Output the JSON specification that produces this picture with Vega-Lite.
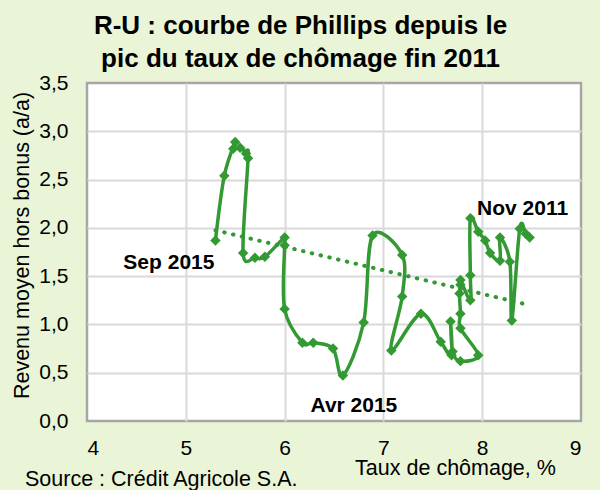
{
  "$schema": "https://vega.github.io/schema/vega-lite/v6.json",
  "width": 494,
  "height": 338,
  "autosize": "none",
  "padding": {"left": 87, "top": 83, "right": 19, "bottom": 69},
  "background": "#EAF4D6",
  "title": {
    "text": "Source : Crédit Agricole S.A.",
    "orient": "bottom",
    "anchor": "start",
    "frame": "group",
    "dx": -62,
    "dy": -14,
    "fontSize": 21.5,
    "fontWeight": "normal",
    "color": "#000000",
    "font": "Liberation Sans"
  },
  "config": {
    "font": "Liberation Sans",
    "view": {"fill": "white", "stroke": "#A6A6A6", "strokeWidth": 2.5},
    "axis": {
      "labelFont": "Liberation Sans",
      "titleFont": "Liberation Sans",
      "labelColor": "#000000",
      "titleColor": "#000000",
      "gridColor": "#D9D9D9",
      "gridWidth": 2,
      "domain": false,
      "ticks": false,
      "tickSize": 0,
      "labelFontSize": 21,
      "titleFontSize": 21.5,
      "titleFontWeight": "normal"
    }
  },
  "data": {
    "values": [
      {"t": 1, "u": 8.48, "w": 1.90, "label": "Nov 2011"},
      {"t": 2, "u": 8.44, "w": 1.94, "label": null},
      {"t": 3, "u": 8.38, "w": 1.99, "label": null},
      {"t": 4, "u": 8.30, "w": 1.04, "label": null},
      {"t": 5, "u": 8.28, "w": 1.65, "label": null},
      {"t": 6, "u": 8.18, "w": 1.90, "label": null},
      {"t": 7, "u": 8.18, "w": 1.66, "label": null},
      {"t": 8, "u": 8.08, "w": 1.74, "label": null},
      {"t": 9, "u": 8.03, "w": 1.87, "label": null},
      {"t": 10, "u": 7.96, "w": 1.96, "label": null},
      {"t": 11, "u": 7.88, "w": 2.10, "label": null},
      {"t": 12, "u": 7.88, "w": 1.51, "label": null},
      {"t": 13, "u": 7.88, "w": 1.25, "label": null},
      {"t": 14, "u": 7.78, "w": 1.46, "label": null},
      {"t": 15, "u": 7.78, "w": 1.41, "label": null},
      {"t": 16, "u": 7.77, "w": 1.32, "label": null},
      {"t": 17, "u": 7.78, "w": 1.11, "label": null},
      {"t": 18, "u": 7.78, "w": 0.96, "label": null},
      {"t": 19, "u": 7.96, "w": 0.68, "label": null},
      {"t": 20, "u": 7.78, "w": 0.62, "label": null},
      {"t": 21, "u": 7.70, "w": 0.72, "label": null},
      {"t": 22, "u": 7.68, "w": 1.03, "label": null},
      {"t": 23, "u": 7.69, "w": 0.68, "label": null},
      {"t": 24, "u": 7.58, "w": 0.82, "label": null},
      {"t": 25, "u": 7.38, "w": 1.11, "label": null},
      {"t": 26, "u": 7.08, "w": 0.73, "label": null},
      {"t": 27, "u": 7.19, "w": 1.29, "label": null},
      {"t": 28, "u": 7.19, "w": 1.72, "label": null},
      {"t": 29, "u": 6.89, "w": 1.92, "label": null},
      {"t": 30, "u": 6.80, "w": 1.02, "label": null},
      {"t": 31, "u": 6.59, "w": 0.47, "label": "Avr 2015"},
      {"t": 32, "u": 6.49, "w": 0.75, "label": null},
      {"t": 33, "u": 6.29, "w": 0.81, "label": null},
      {"t": 34, "u": 6.18, "w": 0.81, "label": null},
      {"t": 35, "u": 6.00, "w": 1.16, "label": null},
      {"t": 36, "u": 6.00, "w": 1.82, "label": null},
      {"t": 37, "u": 6.00, "w": 1.90, "label": null},
      {"t": 38, "u": 5.80, "w": 1.70, "label": null},
      {"t": 39, "u": 5.70, "w": 1.69, "label": null},
      {"t": 40, "u": 5.58, "w": 1.74, "label": null},
      {"t": 41, "u": 5.63, "w": 2.72, "label": null},
      {"t": 42, "u": 5.61, "w": 2.77, "label": null},
      {"t": 43, "u": 5.55, "w": 2.83, "label": null},
      {"t": 44, "u": 5.48, "w": 2.82, "label": null},
      {"t": 45, "u": 5.50, "w": 2.89, "label": null},
      {"t": 46, "u": 5.39, "w": 2.54, "label": null},
      {"t": 47, "u": 5.30, "w": 1.87, "label": "Sep 2015"}
    ]
  },
  "layer": [
    {
      "encoding": {
        "x": {
          "field": "u",
          "type": "quantitative",
          "scale": {"domain": [4, 9]},
          "axis": {
            "orient": "bottom",
            "values": [4, 5, 6, 7, 8, 9],
            "labelPadding": 16,
            "gridOpacity": {"condition": {"test": "datum.value == 4 || datum.value == 9", "value": 0}, "value": 1},
            "title": "Taux de chômage, %",
            "titleX": 368,
            "titleY": 53,
            "titleAlign": "center",
            "titleBaseline": "alphabetic"
          }
        },
        "y": {
          "field": "w",
          "type": "quantitative",
          "scale": {"domain": [0, 3.5]},
          "axis": {
            "values": [0, 0.5, 1, 1.5, 2, 2.5, 3, 3.5],
            "labelExpr": "replace(format(datum.value, '.1f'), '.', ',')",
            "labelPadding": 19,
            "gridOpacity": {"condition": {"test": "datum.value == 0 || datum.value == 3.5", "value": 0}, "value": 1},
            "title": "Revenu moyen hors bonus (a/a)",
            "titleAngle": -90,
            "titleX": -65,
            "titleY": 162,
            "titleAlign": "center",
            "titleBaseline": "middle"
          }
        }
      },
      "layer": [
        {
          "mark": {"type": "line", "interpolate": "cardinal", "color": "#339933", "strokeWidth": 3.5},
          "encoding": {"order": {"field": "t", "type": "quantitative"}}
        },
        {
          "mark": {"type": "point", "shape": "diamond", "filled": true, "opacity": 1, "size": 110, "color": "#339933"}
        },
        {
          "transform": [{"filter": "datum.label == 'Nov 2011'"}],
          "mark": {"type": "text", "fontSize": 21, "fontWeight": "bold", "color": "#000000", "align": "center", "baseline": "alphabetic", "dx": -7, "dy": -23},
          "encoding": {"text": {"field": "label"}}
        },
        {
          "transform": [{"filter": "datum.label == 'Sep 2015'"}],
          "mark": {"type": "text", "fontSize": 21, "fontWeight": "bold", "color": "#000000", "align": "right", "baseline": "alphabetic", "dx": -1, "dy": 29},
          "encoding": {"text": {"field": "label"}}
        },
        {
          "transform": [{"filter": "datum.label == 'Avr 2015'"}],
          "mark": {"type": "text", "fontSize": 21, "fontWeight": "bold", "color": "#000000", "align": "center", "baseline": "alphabetic", "dx": 11, "dy": 36},
          "encoding": {"text": {"field": "label"}}
        }
      ]
    },
    {
      "transform": [{"regression": "w", "on": "u"}],
      "mark": {"type": "line", "color": "#339933", "strokeWidth": 4, "strokeCap": "round", "strokeDash": [0.5, 8.5]},
      "encoding": {
        "x": {
          "field": "u",
          "type": "quantitative",
          "scale": {"domain": [4, 9]},
          "axis": {
            "orient": "top",
            "labels": false,
            "grid": false,
            "title": ["R-U : courbe de Phillips depuis le", "pic du taux de chômage fin 2011"],
            "titleFontSize": 26,
            "titleFontWeight": "bold",
            "titleLineHeight": 33,
            "titleX": 213,
            "titleY": -50,
            "titleAlign": "center",
            "titleBaseline": "alphabetic"
          }
        },
        "y": {"field": "w", "type": "quantitative"}
      }
    }
  ],
  "resolve": {"axis": {"x": "independent"}}
}
